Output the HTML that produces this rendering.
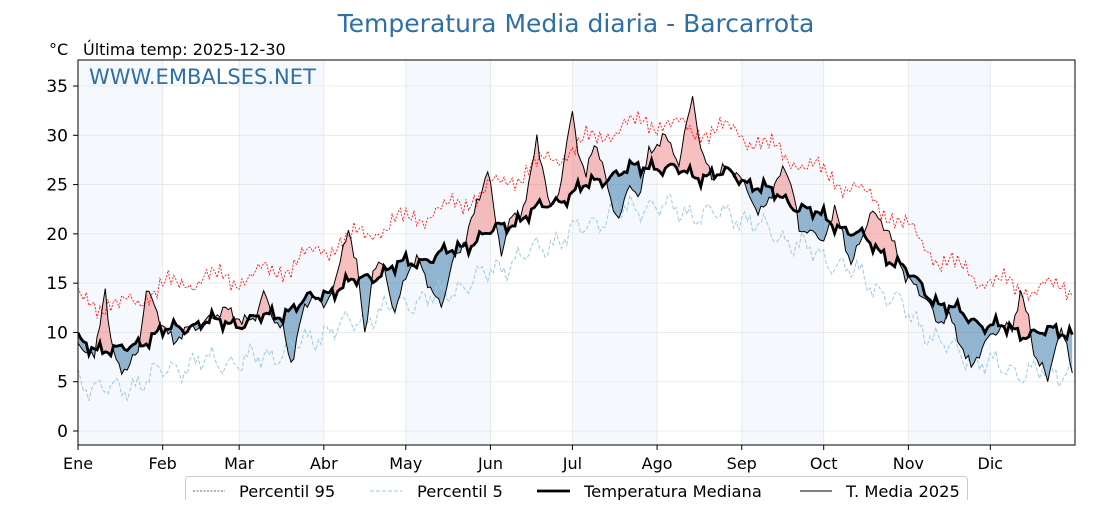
<!DOCTYPE html>
<html><head><meta charset="utf-8"><style>
body{margin:0;background:#fff;width:1120px;height:500px;overflow:hidden;font-family:"Liberation Sans","DejaVu Sans",sans-serif}
</style></head><body>
<svg id="s" width="1120" height="500" xmlns="http://www.w3.org/2000/svg" font-family="DejaVu Sans, Liberation Sans, sans-serif">
<rect width="1120" height="500" fill="#fff"/>
<g id="bands"></g>
<g id="grid"></g>
<defs>
<clipPath id="above"><path id="cA"/></clipPath>
<clipPath id="below"><path id="cB"/></clipPath>
<clipPath id="plot"><rect x="78" y="60" width="997" height="385"/></clipPath>
</defs>
<g clip-path="url(#plot)">
<path id="fr" fill="#f08080" fill-opacity="0.5" clip-path="url(#above)"/>
<path id="fb" fill="#2e6fa6" fill-opacity="0.5" clip-path="url(#below)"/>
<path id="p95" fill="none" stroke="#ff0000" stroke-width="0.8" stroke-dasharray="2,1.5"/>
<path id="p5" fill="none" stroke="#9ecae1" stroke-width="1" stroke-dasharray="4,2"/>
<path id="med" fill="none" stroke="#000" stroke-width="2.8"/>
<path id="t25" fill="none" stroke="#000" stroke-width="1"/>
</g>
<rect x="78" y="60" width="997" height="385" fill="none" stroke="#000" stroke-width="1"/>
<g id="ticks" font-size="17" fill="#000"></g>
<text x="576" y="32" text-anchor="middle" font-size="25" fill="#2e6fa6">Temperatura Media diaria - Barcarrota</text>
<text x="49" y="55" font-size="16">°C</text>
<text x="83" y="55" font-size="16">Última temp: 2025-12-30</text>
<text x="89" y="84" font-size="21" fill="#2e6fa6">WWW.EMBALSES.NET</text>
<rect x="185.5" y="476.5" width="782" height="30" rx="3" fill="#fff" stroke="#ccc"/>
<line x1="193" y1="491" x2="225" y2="491" stroke="#333" stroke-width="0.8" stroke-dasharray="2,1.5"/>
<text x="239" y="497" font-size="16.3">Percentil 95</text>
<line x1="370" y1="491" x2="402" y2="491" stroke="#9ecae1" stroke-width="1" stroke-dasharray="4,2"/>
<text x="417" y="497" font-size="16.3">Percentil 5</text>
<line x1="537" y1="491" x2="570" y2="491" stroke="#000" stroke-width="2.8"/>
<text x="584" y="497" font-size="16.3">Temperatura Mediana</text>
<line x1="800" y1="491" x2="832" y2="491" stroke="#000" stroke-width="1"/>
<text x="846" y="497" font-size="16.3">T. Media 2025</text>
</svg>
<script>
var NS="http://www.w3.org/2000/svg";
function X(d){return 78+d*2.7315;}
function Y(v){return 431-9.857*v;}
function interp(k,d){for(var i=0;i<k.length-1;i++){if(d>=k[i][0]&&d<=k[i+1][0]){var t=(d-k[i][0])/(k[i+1][0]-k[i][0]);return k[i][1]+t*(k[i+1][1]-k[i][1]);}}return k[k.length-1][1];}
function nz(d,a,b){return Math.sin(d*0.9+a)*0.6+Math.sin(d*2.3+b)*0.4+Math.sin(d*0.37+a*2)*0.5+Math.sin(d*3.7+a+b)*0.3;}
var mk=[[0,9],[15,8],[30,10],[45,11],[60,11],[75,12],[90,14],[105,15.5],[120,17],[135,18],[150,20],[165,22],[180,24],[195,26],[210,27],[225,26],[240,26],[255,24],[270,22],[285,20],[300,17],[315,13],[330,11],[345,10],[364,10]];
var tk=[[0,9],[3,8],[6,7],[9,13],[10,14.5],[12,9],[15,7],[18,6],[22,8],[25,14],[28,13],[31,11],[35,9],[40,10],[45,11],[50,12],[55,12],[60,11],[65,12],[68,14],[72,11],[75,10],[78,7],[82,12],[86,14],[90,12],[95,16],[99,21],[102,17],[105,9.5],[108,16],[112,17],[116,12],[120,16],[125,17],[130,14],[133,13],[137,17],[140,18],[145,22],[150,27],[153,21],[155,18],[158,21],[162,22],[165,25],[168,30],[170,27],[173,22],[176,24],[181,32.5],[183,29],[186,26],[189,29],[191,28],[195,23],[198,22],[202,25],[206,24],[209,28],[215,30],[218,29],[220,27],[225,34],[228,28],[233,26],[238,27],[243,25],[246,24],[249,22],[253,24],[259,26.5],[262,24],[264,20],[268,21],[272,19],[277,22],[280,20],[283,17],[287,20],[290,22],[294,21],[297,20],[300,18],[303,16],[308,14],[311,13],[314,11],[319,12],[323,9],[327,6],[332,9],[335,10],[338,11],[342,10],[345,14],[348,11],[350,8],[353,7],[355,5],[358,9],[360,10],[364,6]];
var M=[],T=[],P95=[],P5=[];
for(var d=0;d<365;d++){var m=interp(mk,d)+nz(d,1,2)*0.7;M.push(m);T.push(interp(tk,d)+nz(d,3,5)*0.6);P95.push(m+4.5+nz(d,4,1)*0.9);P5.push(m-4+nz(d,2,6)*0.9);}
function line(a){return a.map(function(v,i){return (i?"L":"M")+X(i).toFixed(1)+","+Y(v).toFixed(1);}).join("");}
var g=function(id){return document.getElementById(id);};
g("med").setAttribute("d",line(M));g("t25").setAttribute("d",line(T));
g("p95").setAttribute("d",line(P95));g("p5").setAttribute("d",line(P5));
var tl=line(T),ml=line(M);
g("fr").setAttribute("d",tl+"L"+X(364)+",445L78,445Z");
g("cA").setAttribute("d",ml+"L"+X(364)+",60L78,60Z");
g("fb").setAttribute("d",tl+"L"+X(364)+",60L78,60Z");
g("cB").setAttribute("d",ml+"L"+X(364)+",445L78,445Z");
var months=["Ene","Feb","Mar","Abr","May","Jun","Jul","Ago","Sep","Oct","Nov","Dic"];
var starts=[0,31,59,90,120,151,181,212,243,273,304,334,365];
var bands=g("bands"),grid=g("grid"),ticks=g("ticks");
function el(p,n,a,txt){var e=document.createElementNS(NS,n);for(var k in a)e.setAttribute(k,a[k]);if(txt)e.textContent=txt;p.appendChild(e);return e;}
for(var i=0;i<12;i++){var x0=X(starts[i]),x1=Math.min(X(starts[i+1]),1075);
if(i%2==0)el(bands,"rect",{x:x0,y:60,width:x1-x0,height:385,fill:"#f5f8fc"});
el(grid,"line",{x1:x0,y1:60,x2:x0,y2:445,stroke:"#e6e6e6","stroke-width":0.8});
el(ticks,"line",{x1:x0,y1:445,x2:x0,y2:450,stroke:"#000"});
el(ticks,"text",{x:x0,y:469,"text-anchor":"middle","font-size":16},months[i]);}
for(var v=0;v<=35;v+=5){var y=Y(v);
el(grid,"line",{x1:78,y1:y,x2:1075,y2:y,stroke:"#e6e6e6","stroke-width":0.8});
el(ticks,"line",{x1:73,y1:y,x2:78,y2:y,stroke:"#000"});
el(ticks,"text",{x:68,y:y+6,"text-anchor":"end","font-size":17},String(v));}
</script>
</body></html>
